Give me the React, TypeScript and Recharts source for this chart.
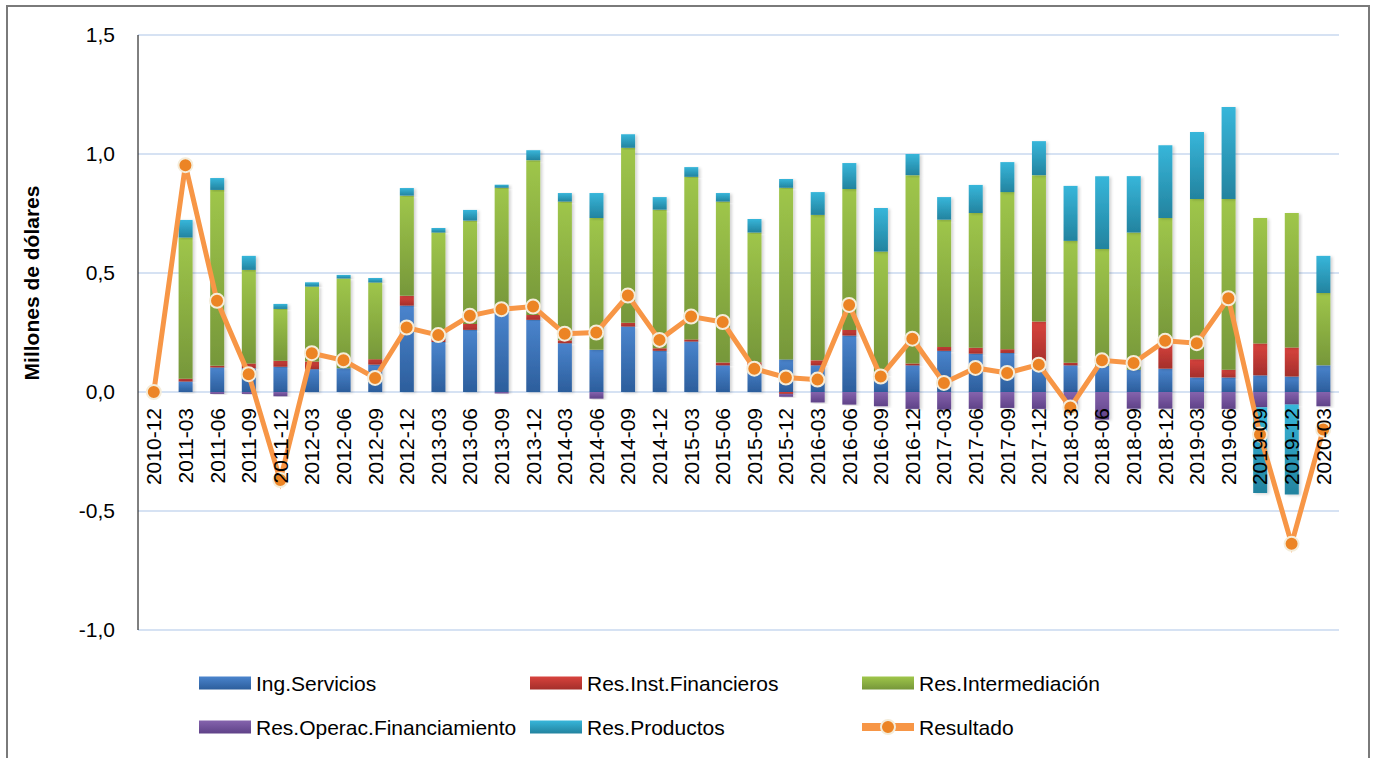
import React from 'react';
import { ComposedChart, Bar, Line, XAxis, YAxis, CartesianGrid } from 'recharts';

const categories = ['2010-12','2011-03','2011-06','2011-09','2011-12','2012-03','2012-06','2012-09','2012-12','2013-03','2013-06','2013-09','2013-12','2014-03','2014-06','2014-09','2014-12','2015-03','2015-06','2015-09','2015-12','2016-03','2016-06','2016-09','2016-12','2017-03','2017-06','2017-09','2017-12','2018-03','2018-06','2018-09','2018-12','2019-03','2019-06','2019-09','2019-12','2020-03'];

const ingServicios = [0,0.044,0.103,0.10,0.106,0.096,0.10,0.115,0.363,0.21,0.261,0.34,0.303,0.205,0.177,0.275,0.173,0.212,0.112,0.11,0.137,0.112,0.237,0.07,0.112,0.173,0.161,0.164,0.11,0.112,0.11,0.094,0.098,0.061,0.061,0.07,0.065,0.112];
const resInstFinancieros = [0,0.012,0.007,0.02,0.025,0.032,0,0.023,0.041,0.013,0.025,0,0.021,0.012,0,0.016,0.011,0.009,0.012,0.015,-0.008,0.021,0.024,0.015,0.008,0.016,0.025,0.016,0.186,0.011,0,0,0.114,0.077,0.033,0.134,0.122,0];
const resIntermediacion = [0,0.593,0.739,0.393,0.218,0.315,0.377,0.322,0.421,0.447,0.434,0.518,0.65,0.583,0.554,0.735,0.582,0.683,0.676,0.545,0.721,0.611,0.592,0.505,0.791,0.535,0.566,0.66,0.615,0.512,0.491,0.576,0.519,0.673,0.717,0.527,0.565,0.304];
const resOperacFinanciamiento = [0,0,-0.008,-0.008,-0.018,0,0,0,0,0,0,-0.006,0,0,-0.028,0,0,0,0,0,-0.012,-0.044,-0.053,-0.06,-0.071,-0.074,-0.071,-0.067,-0.071,-0.075,-0.116,-0.07,-0.07,-0.07,-0.071,-0.064,-0.053,-0.06];
const resProductos = [0,0.074,0.05,0.059,0.021,0.018,0.015,0.019,0.032,0.019,0.045,0.013,0.042,0.036,0.105,0.057,0.053,0.041,0.036,0.057,0.037,0.096,0.109,0.183,0.089,0.095,0.118,0.126,0.143,0.231,0.306,0.237,0.306,0.281,0.386,-0.36,-0.378,0.156];
const resultado = [0,0.953,0.383,0.075,-0.37,0.163,0.133,0.059,0.271,0.239,0.32,0.348,0.359,0.245,0.25,0.405,0.219,0.317,0.294,0.098,0.061,0.052,0.366,0.065,0.224,0.038,0.101,0.08,0.115,-0.065,0.133,0.122,0.215,0.205,0.394,-0.179,-0.638,-0.158];

const yTicks = [-1, -0.5, 0, 0.5, 1, 1.5];

const data = categories.map((c, i) => ({
  cat: c,
  ing: ingServicios[i],
  inst: resInstFinancieros[i],
  inter: resIntermediacion[i],
  oper: resOperacFinanciamiento[i],
  prod: resProductos[i],
  res: resultado[i],
}));

const FONT = '"Liberation Sans", Arial, sans-serif';
const W = 1376, H = 758;
const M = { top: 35, right: 37, bottom: 127, left: 58 };
const X_AXIS_H = 1;
const Y_MIN = -1, Y_MAX = 1.5;
const PLOT_H = H - M.top - M.bottom - X_AXIS_H;
const ZERO_Y = M.top + PLOT_H * (Y_MAX / (Y_MAX - Y_MIN));

const series = [
  { key: 'ing', name: 'Ing.Servicios', top: '#4a84cd', bottom: '#2c5e9c' },
  { key: 'inst', name: 'Res.Inst.Financieros', top: '#d8433d', bottom: '#a42f2b' },
  { key: 'inter', name: 'Res.Intermediación', top: '#9fc64a', bottom: '#76973a' },
  { key: 'oper', name: 'Res.Operac.Financiamiento', top: '#8563ad', bottom: '#5f4288' },
  { key: 'prod', name: 'Res.Productos', top: '#37b6da', bottom: '#23839f' },
];

const XTick = (props: any) => {
  const { x, payload } = props;
  return (
    <text
      transform={`translate(${x},${ZERO_Y + 16}) rotate(-90)`}
      textAnchor="end"
      dominantBaseline="central"
      fontSize={21}
      fontFamily={FONT}
      fill="#000"
    >
      {payload.value}
    </text>
  );
};

const YTitle = () => (
  <text
    transform={`translate(31,283) rotate(-90)`}
    textAnchor="middle"
    dominantBaseline="central"
    fontSize={21}
    fontWeight="bold"
    fontFamily={FONT}
    fill="#000"
  >
    Millones de dólares
  </text>
);

const fmt = (v: number) => v.toFixed(1).replace('.', ',');

const legendCols = [199, 530, 862];
const legendRows = [683, 727];
const legendItems = [
  { ...series[0], type: 'bar' },
  { ...series[1], type: 'bar' },
  { ...series[2], type: 'bar' },
  { ...series[3], type: 'bar' },
  { ...series[4], type: 'bar' },
  { key: 'res', name: 'Resultado', type: 'line', top: '', bottom: '' },
];

const LegendSvg = () => (
  <svg width={W} height={H} style={{ position: 'absolute', left: 0, top: 0, pointerEvents: 'none' }}>
    <defs>
      {series.map((s) => (
        <linearGradient key={s.key} id={`lg-${s.key}`} x1="0" y1="0" x2="0" y2="1">
          <stop offset="0%" stopColor={s.top} />
          <stop offset="100%" stopColor={s.bottom} />
        </linearGradient>
      ))}
    </defs>
    {legendItems.map((it, i) => {
      const x = legendCols[i % 3];
      const y = legendRows[Math.floor(i / 3)];
      return (
        <g key={it.key}>
          {it.type === 'bar' ? (
            <rect x={x} y={y - 6.5} width={52} height={13} fill={`url(#lg-${it.key})`} />
          ) : (
            <g>
              <line x1={x} y1={y} x2={x + 52} y2={y} stroke="#f79646" strokeWidth={8} />
              <circle cx={x + 26} cy={y} r={7} fill="#ec8424" stroke="#f4ecd9" strokeWidth={2} />
            </g>
          )}
          <text x={x + 57} y={y} dominantBaseline="central" fontSize={21} fontFamily={FONT} fill="#000">
            {it.name}
          </text>
        </g>
      );
    })}
  </svg>
);

export default function App() {
  return (
    <div style={{ position: 'absolute', left: 0, top: 0, width: W, height: H, overflow: 'hidden', background: '#fff' }}>
      <div
        style={{
          position: 'absolute',
          left: 6,
          top: 5,
          width: 1364,
          height: 760,
          boxSizing: 'border-box',
          borderTop: '2px solid #7a7a7a',
          borderLeft: '2px solid #7a7a7a',
          borderRight: '2px solid #7a7a7a',
        }}
      />
      <div style={{ position: 'absolute', left: 0, top: 0 }}>
        <ComposedChart
          width={W}
          height={H}
          data={data}
          margin={M}
          stackOffset="sign"
          barSize={14}
        >
          <defs>
            {series.map((s) => (
              <linearGradient key={s.key} id={`g-${s.key}`} x1="0" y1="0" x2="0" y2="1">
                <stop offset="0%" stopColor={s.top} />
                <stop offset="100%" stopColor={s.bottom} />
              </linearGradient>
            ))}
            <filter id="bar-shadow" x="-30%" y="-10%" width="160%" height="120%">
              <feDropShadow dx="2" dy="1" stdDeviation="1.5" floodColor="#000" floodOpacity="0.18" />
            </filter>
          </defs>
          <CartesianGrid vertical={false} stroke="#d6e2f3" strokeWidth={2} />
          <XAxis
            dataKey="cat"
            height={X_AXIS_H}
            axisLine={false}
            tickLine={false}
            interval={0}
            tick={<XTick />}
          />
          <YAxis
            width={80}
            domain={[Y_MIN, Y_MAX]}
            ticks={yTicks}
            tickFormatter={fmt}
            axisLine={{ stroke: '#000', strokeWidth: 1 }}
            tickLine={false}
            tickSize={0}
            tickMargin={23}
            tick={{ fontSize: 21, fontFamily: FONT, fill: '#000' }}
            allowDataOverflow
            label={{ content: () => <YTitle /> }}
          />
          {series.map((s) => (
            <Bar
              key={s.key}
              dataKey={s.key}
              name={s.name}
              stackId="a"
              fill={`url(#g-${s.key})`}
              filter="url(#bar-shadow)"
              isAnimationActive={false}
            />
          ))}
          <Line
            dataKey="res"
            name="Resultado"
            stroke="#f79646"
            strokeWidth={5}
            dot={{ r: 7, fill: '#ec8424', stroke: '#f4ecd9', strokeWidth: 2 }}
            activeDot={false}
            isAnimationActive={false}
          />
        </ComposedChart>
      </div>
      <LegendSvg />
    </div>
  );
}
